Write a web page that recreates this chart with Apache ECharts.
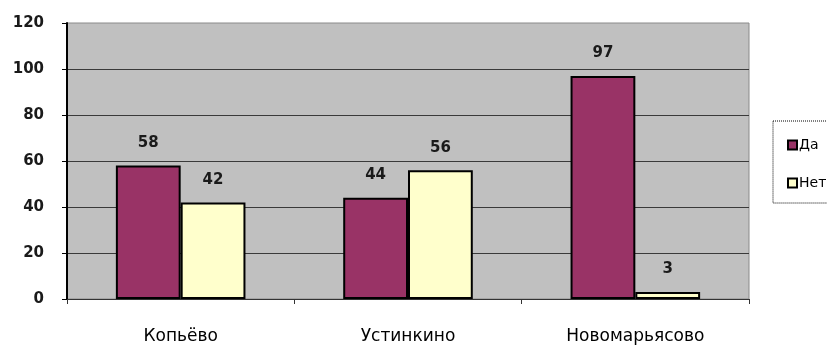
<!DOCTYPE html>
<html>
<head>
<meta charset="utf-8">
<script src="https://cdn.jsdelivr.net/npm/echarts@6/dist/echarts.min.js"></script>
<style>
  html, body { margin: 0; padding: 0; background: #ffffff; }
  #chart { width: 827px; height: 347px; }
</style>
</head>
<body>
<div id="chart"></div>
<script>
// Survey answers by village
const categories = ['Копьёво', 'Устинкино', 'Новомарьясово'];
const yesValues = [58, 44, 97];
const noValues = [42, 56, 3];
const seriesNames = ['Да', 'Нет'];

const chart = echarts.init(document.getElementById('chart'), null, { renderer: 'canvas' });

const labelFont = {
  fontFamily: 'DejaVu Sans',
  fontWeight: 'bold',
  fontSize: 15,
  color: '#1a1a1a'
};

function barSeries(name, data, color) {
  return {
    name: name,
    type: 'bar',
    data: data,
    barGap: '0%',
    barCategoryGap: '43%',
    itemStyle: { color: color, borderColor: '#000', borderWidth: 2 },
    label: Object.assign({ show: true, position: 'top', distance: 15 }, labelFont)
  };
}

chart.setOption({
  animation: false,
  backgroundColor: '#ffffff',
  grid: {
    left: 67, right: 78, top: 23, bottom: 48,
    show: true,
    backgroundColor: '#c0c0c0',
    borderColor: '#8a8a8a',
    borderWidth: 1
  },
  legend: {
    orient: 'vertical',
    left: 773,
    top: 121,
    padding: [17, 40, 13, 14],
    itemGap: 24,
    itemWidth: 9,
    itemHeight: 9,
    icon: 'rect',
    borderColor: '#000',
    borderWidth: 1,
    borderType: 'dotted',
    textStyle: { fontFamily: 'DejaVu Sans', fontSize: 14, color: '#000', padding: [0, 0, 0, -3] },
    data: seriesNames
  },
  xAxis: {
    type: 'category',
    data: categories,
    boundaryGap: true,
    axisLine: { lineStyle: { color: '#333', width: 1, type: 'dotted' } },
    axisTick: { show: true, alignWithLabel: false, length: 5, lineStyle: { color: '#333' } },
    axisLabel: {
      margin: 29,
      fontFamily: 'DejaVu Sans',
      fontSize: 17,
      color: '#000'
    }
  },
  yAxis: {
    type: 'value',
    min: 0,
    max: 120,
    interval: 20,
    axisLine: { show: true, lineStyle: { color: '#000', width: 2 } },
    axisTick: { show: true, length: 5, lineStyle: { color: '#000' } },
    splitLine: { show: true, showMaxLine: false, lineStyle: { color: '#3a3a3a', width: 1 } },
    axisLabel: Object.assign({ margin: 23 }, labelFont)
  },
  series: [
    barSeries(seriesNames[0], yesValues, '#993366'),
    barSeries(seriesNames[1], noValues, '#ffffcc')
  ]
});
</script>
</body>
</html>
